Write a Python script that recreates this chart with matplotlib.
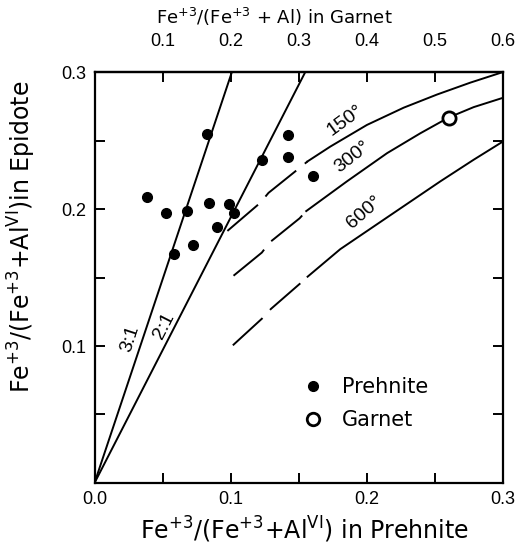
import matplotlib
matplotlib.use("Agg")
import matplotlib.pyplot as plt
from matplotlib.lines import Line2D

plt.rcParams.update({
    "font.family": ["Liberation Sans", "DejaVu Sans"],
    "font.size": 13,
    "mathtext.fontset": "dejavusans",
    "lines.scale_dashes": False,
})
LABEL_FONT = ["DejaVu Sans"]

# --- data (prehnite-scale x, epidote y) ---
prehnite_x = [0.0825, 0.0384, 0.0526, 0.0678, 0.0585, 0.0726, 0.0844,
              0.0903, 0.0991, 0.1026, 0.1229, 0.1418, 0.1418, 0.1604]
prehnite_y = [0.2547, 0.2090, 0.1969, 0.1988, 0.1672, 0.1739, 0.2042,
              0.1871, 0.2036, 0.1969, 0.2358, 0.2540, 0.2377, 0.2241]
garnet_x = [0.2601]
garnet_y = [0.2668]

# partition lines from the origin
ratio_labels = ["3:1", "2:1"]
ratio_end_x = [0.1009, 0.1548]
ratio_end_y = [0.30, 0.30]

# isotherms: first N_DASH points are the dashed (extrapolated) part
iso_labels = ["150°", "300°", "600°"]
iso150_x = [0.0976, 0.1217, 0.1278, 0.1511, 0.1565, 0.1732, 0.2001,
            0.2271, 0.2516, 0.2761, 0.3000]
iso150_y = [0.1840, 0.2045, 0.2118, 0.2304, 0.2348, 0.2456, 0.2614,
            0.2740, 0.2836, 0.2923, 0.3000]
iso300_x = [0.1021, 0.1229, 0.1285, 0.1506, 0.1555, 0.1854, 0.2149,
            0.2393, 0.2601, 0.2785, 0.3000]
iso300_y = [0.1513, 0.1682, 0.1755, 0.1932, 0.1985, 0.2202, 0.2408,
            0.2553, 0.2668, 0.2744, 0.2812]
iso600_x = [0.1016, 0.1229, 0.1296, 0.1511, 0.1565, 0.1805, 0.2173,
            0.2540, 0.2785, 0.3000]
iso600_y = [0.1005, 0.1199, 0.1271, 0.1457, 0.1506, 0.1707, 0.1955,
            0.2202, 0.2360, 0.2493]
N_DASH = 5

LW = 1.4

fig = plt.figure(figsize=(5.21, 5.45), dpi=100)
ax = fig.add_axes([0.1814, 0.1138, 0.784, 0.754])

# ratio lines
for xe, ye in zip(ratio_end_x, ratio_end_y):
    ax.plot([0, xe], [0, ye], color="black", lw=LW, solid_capstyle="butt")

# isotherms
for xs, ys in [(iso150_x, iso150_y), (iso300_x, iso300_y), (iso600_x, iso600_y)]:
    ax.plot(xs[:N_DASH], ys[:N_DASH], color="black", lw=LW,
            dashes=(29, 8), dash_capstyle="butt")
    ax.plot(xs[N_DASH - 1:], ys[N_DASH - 1:], color="black", lw=LW)

# points
ax.plot(prehnite_x, prehnite_y, "o", color="black", ms=7, zorder=4)
ax.plot(garnet_x, garnet_y, "o", mfc="white", mec="black", mew=2.0,
        ms=9.5, zorder=5)

# labels on lines
ax.text(0.0265, 0.1056, ratio_labels[0], rotation=72, ha="center",
        va="center", fontsize=14)
ax.text(0.0512, 0.1146, ratio_labels[1], rotation=63, ha="center",
        va="center", fontsize=14)
ax.text(0.1842, 0.2647, iso_labels[0], rotation=36, ha="center",
        va="center", fontsize=14)
ax.text(0.1897, 0.2378, iso_labels[1], rotation=38, ha="center",
        va="center", fontsize=14)
ax.text(0.1983, 0.1979, iso_labels[2], rotation=41, ha="center",
        va="center", fontsize=14)

ax.set_xlim(0, 0.3)
ax.set_ylim(0, 0.3)
ax.set_xticks([0.0, 0.1, 0.2, 0.3])
ax.set_xticklabels(["0.0", "0.1", "0.2", "0.3"])
ax.set_xticks([0.05, 0.15, 0.25], minor=True)
ax.set_yticks([0.1, 0.2, 0.3])
ax.set_yticklabels(["0.1", "0.2", "0.3"])
ax.set_yticks([0.05, 0.15, 0.25], minor=True)
ax.tick_params(which="both", direction="in", length=7, width=1.4,
               labelsize=13, right=True)
ax.tick_params(axis="x", pad=6)
ax.tick_params(axis="y", pad=6)
for s in ax.spines.values():
    s.set_linewidth(1.6)

sec = ax.secondary_xaxis("top", functions=(lambda v: 2 * v, lambda v: v / 2))
sec.set_xticks([0.1, 0.2, 0.3, 0.4, 0.5, 0.6])
sec.set_xticklabels(["0.1", "0.2", "0.3", "0.4", "0.5", "0.6"])
sec.tick_params(direction="in", length=7, width=1.4, labelsize=13, pad=16)
sec.spines["top"].set_linewidth(1.6)

# axis titles placed directly (centres)
ax.text(0.44, 1.133, r"Fe$^{+3}$/(Fe$^{+3}$ + Al) in Garnet",
        transform=ax.transAxes, ha="center", va="center", fontsize=13,
        family=LABEL_FONT)
ax.text(0.513, -0.114, r"Fe$^{+3}$/(Fe$^{+3}$+Al$^{\mathrm{VI}}$) in Prehnite",
        transform=ax.transAxes, ha="center", va="center", fontsize=17,
        family=LABEL_FONT)
ax.text(-0.1775, 0.6, r"Fe$^{+3}$/(Fe$^{+3}$+Al$^{\mathrm{VI}}$)in Epidote",
        transform=ax.transAxes, ha="center", va="center", rotation=90,
        fontsize=17, family=LABEL_FONT)

handles = [
    Line2D([], [], ls="none", marker="o", color="black", ms=7, label="Prehnite"),
    Line2D([], [], ls="none", marker="o", mfc="white", mec="black", mew=2.0,
           ms=9, label="Garnet"),
]
ax.legend(handles=handles, loc="upper left", bbox_to_anchor=(0.488, 0.277),
          frameon=False, prop={"family": LABEL_FONT, "size": 15},
          handlelength=1.0, handletextpad=0.9, labelspacing=0.6,
          borderaxespad=0)

fig.savefig("out.png", dpi=100)
